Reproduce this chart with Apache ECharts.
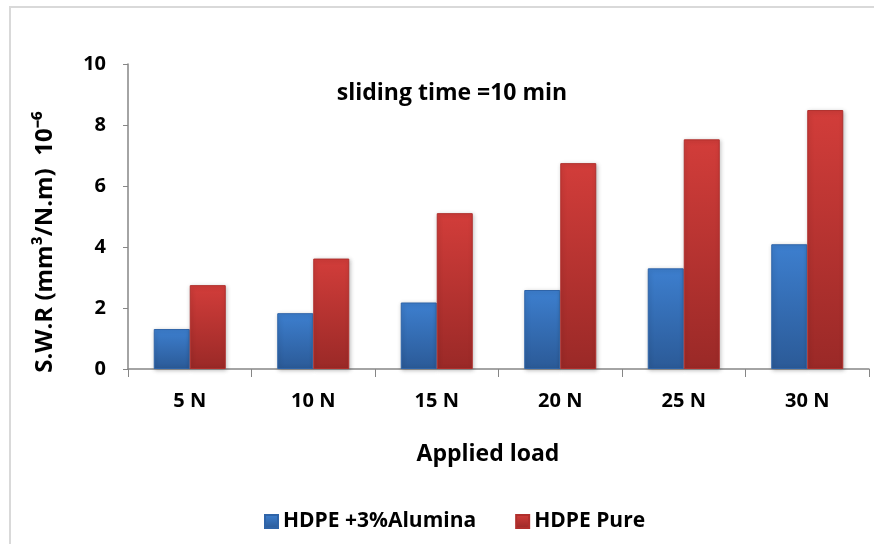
<!DOCTYPE html>
<html><head><meta charset="utf-8">
<script src="https://cdn.jsdelivr.net/npm/echarts@6/dist/echarts.min.js"></script>
<style>html,body{margin:0;padding:0;background:#fff}#c{width:874px;height:544px}</style>
</head><body><div id="c"></div>
<script>
const categories = ['5 N','10 N','15 N','20 N','25 N','30 N'];
const alumina = [1.31, 1.83, 2.18, 2.59, 3.30, 4.09];
const pure = [2.75, 3.62, 5.11, 6.75, 7.53, 8.49];
const yTicks = [0, 2, 4, 6, 8, 10];

const FONT = '"Open Sans"';
const chart = echarts.init(document.getElementById('c'));
function grad(top, bottom){
  return new echarts.graphic.LinearGradient(0,0,0,1,[{offset:0,color:top},{offset:1,color:bottom}]);
}
chart.setOption({
  animation:false,
  backgroundColor:'#fff',
  graphic:[
    {type:'rect', shape:{x:10,y:7,width:900,height:600}, style:{fill:'none',stroke:'#d9d9d9',lineWidth:2}, silent:true, z:-1},
    {type:'text', x:452, y:93, style:{text:'sliding time =10 min', font:'bold 23px '+FONT, fill:'#000', align:'center', verticalAlign:'middle'}},
    {type:'text', x:45, y:242, rotation:Math.PI/2, style:{text:'S.W.R (mm³/N.m)  10⁻⁶', font:'bold 24px '+FONT, fill:'#000', align:'center', verticalAlign:'middle'}},
    {type:'text', x:488, y:454, style:{text:'Applied load', font:'bold 23px '+FONT, fill:'#000', align:'center', verticalAlign:'middle'}}
  ],
  legend:{
    top:506, left:259, itemWidth:13, itemHeight:13, itemGap:39,
    icon:'rect',
    textStyle:{fontFamily:FONT, fontWeight:'bold', fontSize:21, color:'#000'},
    data:['HDPE +3%Alumina','HDPE Pure']
  },
  grid:{left:128, right:5, top:64, bottom:175, containLabel:false},
  xAxis:{
    type:'category', data:categories,
    axisLine:{lineStyle:{color:'#868686', width:1.5}},
    axisTick:{show:true, length:8, lineStyle:{color:'#868686'}},
    axisLabel:{margin:22, fontFamily:FONT, fontWeight:'bold', fontSize:20, color:'#000'}
  },
  yAxis:{
    type:'value', min:0, max:10, interval:2,
    axisLine:{show:true, lineStyle:{color:'#868686', width:1.5}},
    axisTick:{show:true, length:5, lineStyle:{color:'#868686'}},
    splitLine:{show:false},
    axisLabel:{margin:22, fontFamily:FONT, fontWeight:'bold', fontSize:20, color:'#000',
      formatter:function(v){return yTicks.indexOf(v)>=0 ? String(v) : '';}}
  },
  series:[
    {name:'HDPE +3%Alumina', type:'bar', data:alumina, barWidth:36, barGap:'0%',
     itemStyle:{color:grad('#3d7fcf','#2b5a97'), borderColor:'#2f64a8', borderWidth:1,
       shadowColor:'rgba(0,0,0,0.25)', shadowBlur:4, shadowOffsetX:1, shadowOffsetY:1}},
    {name:'HDPE Pure', type:'bar', data:pure, barWidth:36,
     itemStyle:{color:grad('#d23d3a','#9a2927'), borderColor:'#b02f2c', borderWidth:1,
       shadowColor:'rgba(0,0,0,0.25)', shadowBlur:4, shadowOffsetX:1, shadowOffsetY:1}}
  ]
});
</script></body></html>
